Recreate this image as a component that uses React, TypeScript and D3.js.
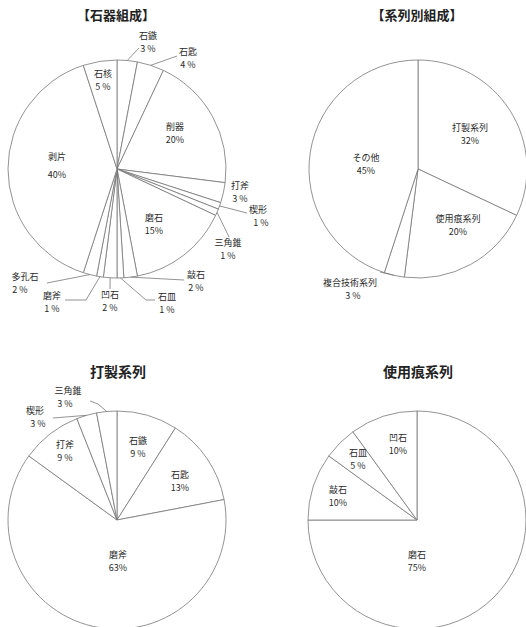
import React from "react";
import * as d3 from "d3";

// ---- data ----
const toolCats = ["石鏃", "石匙", "削器", "打斧", "楔形", "三角錐", "磨石", "敲石", "石皿", "凹石", "磨斧", "多孔石", "剥片", "石核"];
const toolVals = [3, 4, 20, 3, 1, 1, 15, 2, 1, 2, 1, 2, 40, 5];
const toolPct = ["3 %", "4 %", "20%", "3 %", "1 %", "1 %", "15%", "2 %", "1 %", "2 %", "1 %", "2 %", "40%", "5 %"];

const seriesCats = ["打製系列", "使用痕系列", "複合技術系列", "その他"];
const seriesVals = [32, 20, 3, 45];
const seriesPct = ["32%", "20%", "3 %", "45%"];

const chipCats = ["石鏃", "石匙", "磨斧", "打斧", "楔形", "三角錐"];
const chipVals = [9, 13, 63, 9, 3, 3];
const chipPct = ["9 %", "13%", "63%", "9 %", "3 %", "3 %"];

const useCats = ["磨石", "敲石", "石皿", "凹石"];
const useVals = [75, 10, 5, 10];
const usePct = ["75%", "10%", "5 %", "10%"];

const titles = ["【石器組成】", "【系列別組成】", "打製系列", "使用痕系列"];

// ---- layout (positions only) ----
type Lab = { x: number; y: number; y2?: number; x2?: number; lead?: [number, number][] };

const R = 109;
const LINE = 13;
const charts = [
  {
    cats: toolCats, vals: toolVals, pct: toolPct, title: titles[0], cx: 117, cy: 169, tx: 116, ty: 20, tsize: 13,
    labels: [
      { x: 148, y: 37, lead: [[139, 48]] },
      { x: 188, y: 53, lead: [[177, 56]] },
      { x: 175, y: 128 },
      { x: 240, y: 187 },
      { x: 258, y: 211, x2: 261, lead: [[247, 213]] },
      { x: 228, y: 244, lead: [[229, 237]] },
      { x: 154, y: 219 },
      { x: 196, y: 276, lead: [[184, 280]] },
      { x: 167, y: 298, lead: [[146, 300], [155, 300]] },
      { x: 110, y: 296, lead: [[110, 289]] },
      { x: 52, y: 297, lead: [[86, 300], [65, 300]] },
      { x: 25, y: 278, x2: 20, lead: [[47, 283]] },
      { x: 57, y: 158, y2: 176 },
      { x: 103, y: 75 },
    ] as Lab[],
  },
  {
    cats: seriesCats, vals: seriesVals, pct: seriesPct, title: titles[1], cx: 418, cy: 169, tx: 417, ty: 20, tsize: 13,
    labels: [
      { x: 470, y: 129 },
      { x: 458, y: 220 },
      { x: 350, y: 284, x2: 353, lead: [[380, 272]] },
      { x: 366, y: 159 },
    ] as Lab[],
  },
  {
    cats: chipCats, vals: chipVals, pct: chipPct, title: titles[2], cx: 117, cy: 520, tx: 118, ty: 377, tsize: 14,
    labels: [
      { x: 138, y: 442 },
      { x: 180, y: 476 },
      { x: 118, y: 556 },
      { x: 65, y: 446 },
      { x: 35, y: 412, x2: 38, lead: [[53, 418]] },
      { x: 68, y: 392, x2: 65, lead: [[98, 404], [90, 401]] },
    ] as Lab[],
  },
  {
    cats: useCats, vals: useVals, pct: usePct, title: titles[3], cx: 417, cy: 520, tx: 418, ty: 377, tsize: 14,
    labels: [
      { x: 417, y: 556 },
      { x: 338, y: 491 },
      { x: 358, y: 454 },
      { x: 398, y: 439 },
    ] as Lab[],
  },
];

const FONT = "'Noto Sans CJK JP', 'Noto Sans', sans-serif";
const STROKE = "#777";
const TEXT = "#2a2a2a";

function Pie({ c }: { c: (typeof charts)[number] }) {
  const pie = d3.pie<number>().sort(null).value((d) => d);
  const arcs = pie(c.vals);
  const arc = d3.arc<d3.PieArcDatum<number>>().innerRadius(0).outerRadius(R);
  return (
    <g>
      <text x={c.tx} y={c.ty} textAnchor="middle" fontSize={c.tsize} fontWeight={700} fill="#222" fontFamily={FONT}>
        {c.title}
      </text>
      <g transform={`translate(${c.cx},${c.cy})`}>
        {arcs.map((a, i) => (
          <path key={i} d={arc(a) || ""} fill="#fff" stroke={STROKE} strokeWidth={0.8} strokeLinejoin="round" />
        ))}
      </g>
      {arcs.map((a, i) => {
        const lab = c.labels[i];
        const mid = (a.startAngle + a.endAngle) / 2;
        const sx = c.cx + R * Math.sin(mid);
        const sy = c.cy - R * Math.cos(mid);
        const y2 = lab.y2 ?? lab.y + LINE;
        const x2 = lab.x2 ?? lab.x;
        return (
          <g key={i}>
            {lab.lead && (
              <polyline
                points={[[sx, sy], ...lab.lead].map((p) => p.join(",")).join(" ")}
                fill="none"
                stroke={STROKE}
                strokeWidth={0.8}
              />
            )}
            <text x={lab.x} y={lab.y} textAnchor="middle" dominantBaseline="middle" fontSize={9} fill={TEXT} fontFamily={FONT}>
              {c.cats[i]}
            </text>
            <text x={x2} y={y2} textAnchor="middle" dominantBaseline="middle" fontSize={9} fill={TEXT} fontFamily={FONT}>
              {c.pct[i]}
            </text>
          </g>
        );
      })}
    </g>
  );
}

export default function App() {
  return (
    <svg
      width={526}
      height={627}
      viewBox="0 0 526 627"
      style={{ position: "absolute", left: 0, top: 0, background: "#fff" }}
    >
      <rect x={0} y={0} width={526} height={627} fill="#fff" />
      {charts.map((c, i) => (
        <Pie key={i} c={c} />
      ))}
    </svg>
  );
}
